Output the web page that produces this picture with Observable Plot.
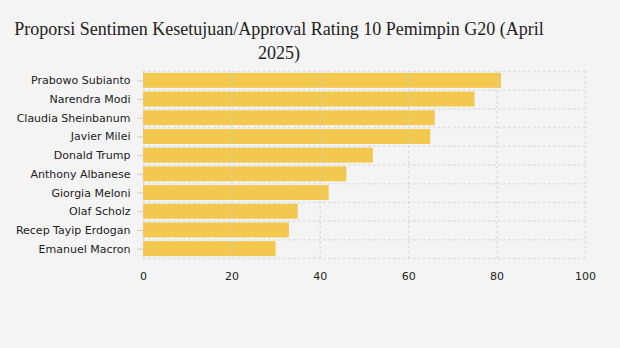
<!DOCTYPE html>
<html>
<head>
<meta charset="utf-8">
<script src="https://cdn.jsdelivr.net/npm/d3@7"></script>
<script src="https://cdn.jsdelivr.net/npm/@observablehq/plot@0.6"></script>
<style>
  html, body { margin: 0; padding: 0; background: #f4f4f4; }
  #wrap { position: relative; width: 620px; height: 348px; overflow: hidden; }
  #title { position: absolute; left: 0px; top: 17px; width: 558px; text-align: center;
    font-family: "Liberation Serif", "Times New Roman", serif; font-size: 18px; line-height: 24px; color: #222; }
  #chart { position: absolute; left: 0; top: 0; }
</style>
</head>
<body>
<div id="wrap">
  <div id="chart"></div>
  <div id="title">Proporsi Sentimen Kesetujuan/Approval Rating 10 Pemimpin G20 (April 2025)</div>
</div>
<script>
const leaders = ["Prabowo Subianto", "Narendra Modi", "Claudia Sheinbanum", "Javier Milei", "Donald Trump",
  "Anthony Albanese", "Giorgia Meloni", "Olaf Scholz", "Recep Tayip Erdogan", "Emanuel Macron"];
const approval = [81, 75, 66, 65, 52, 46, 42, 35, 33, 30];
const xTicks = [0, 20, 40, 60, 80, 100];

const data = leaders.map((name, i) => ({name, value: approval[i]}));

const W = 620, H = 348, mt = 71, mb = 90, ml = 143, mr = 35;
const step = (H - mt - mb) / leaders.length;
const gridStyle = {stroke: "#cfcfcf", strokeOpacity: 0.6, strokeWidth: 1.5, strokeDasharray: "2.5,2.5"};

const chart = Plot.plot({
  width: W, height: H,
  marginTop: mt, marginBottom: mb, marginLeft: ml, marginRight: mr,
  style: {background: "transparent", fontFamily: "DejaVu Sans, Verdana, sans-serif", fontSize: "11px", color: "#222"},
  x: {domain: [0, 100], ticks: xTicks},
  y: {domain: leaders, paddingInner: 0.2, paddingOuter: 0.1, round: false},
  marks: [
    Plot.barX(data, {y: "name", x: "value", fill: "#f2c84f"}),
    Plot.ruleX(xTicks, {...gridStyle}),
    Plot.ruleY(leaders, {y: d => d, dy: -step / 2, ...gridStyle}),
    Plot.ruleY(leaders.slice(-1), {y: d => d, dy: step / 2, ...gridStyle}),
    Plot.axisX({ticks: xTicks, tickSize: 0, tickPadding: 14, label: null}),
    Plot.axisY({tickSize: 6, stroke: "#cccccc", text: null, label: null}),
    Plot.axisY({tickSize: 0, tickPadding: 13, label: null})
  ]
});
document.getElementById("chart").appendChild(chart);
</script>
</body>
</html>
